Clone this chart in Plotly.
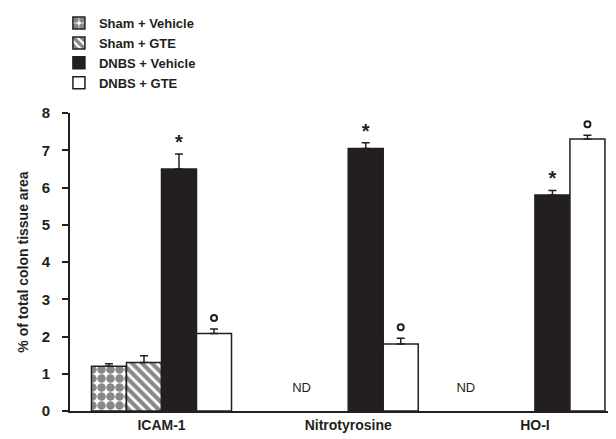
import plotly.graph_objects as go

categories = ["ICAM-1", "Nitrotyrosine", "HO-I"]
series_names = ["Sham + Vehicle", "Sham + GTE", "DNBS + Vehicle", "DNBS + GTE"]
sham_vehicle = [1.2, None, None]
sham_vehicle_err = [0.07, None, None]
sham_gte = [1.3, None, None]
sham_gte_err = [0.18, None, None]
dnbs_vehicle = [6.5, 7.05, 5.8]
dnbs_vehicle_err = [0.4, 0.15, 0.12]
dnbs_gte = [2.08, 1.8, 7.3]
dnbs_gte_err = [0.12, 0.15, 0.1]
nd_label = "ND"
nd_x = [0.75, 1.63]
nd_y = [0.6, 0.6]
y_ticks = [0, 1, 2, 3, 4, 5, 6, 7, 8]

FONT = "Liberation Sans"
xpos = list(range(len(categories)))
bargap = 0.25
bw = (1 - bargap) / 4

fig = go.Figure()
styles = [
    dict(color="white", pattern=dict(shape=".", fgcolor="#111", bgcolor="white", size=9, solidity=0.7)),
    dict(color="white", pattern=dict(shape="\\", fgcolor="#111", bgcolor="white", size=7, solidity=0.6)),
    dict(color="#231f20"),
    dict(color="white"),
]
vals = [sham_vehicle, sham_gte, dnbs_vehicle, dnbs_gte]
errs = [sham_vehicle_err, sham_gte_err, dnbs_vehicle_err, dnbs_gte_err]
for name, v, e, st in zip(series_names, vals, errs, styles):
    fig.add_trace(go.Bar(
        x=xpos, y=v, name=name,
        marker=dict(line=dict(color="#231f20", width=1.5), **st),
        error_y=dict(type="data", array=e, visible=True, color="#231f20", thickness=1.5, width=4, symmetric=False, arrayminus=[0]*3),
    ))

# significance markers
off_v = -0.5 + bargap / 2 + bw * 2.5
off_g = -0.5 + bargap / 2 + bw * 3.5
fig.add_trace(go.Scatter(
    x=[x + off_v for x in xpos],
    y=[v + e for v, e in zip(dnbs_vehicle, dnbs_vehicle_err)],
    mode="text", text=["*"] * 3, textposition="top center",
    textfont=dict(family=FONT, size=20, color="#231f20", weight="bold"),
    showlegend=False, hoverinfo="skip", cliponaxis=False,
))
fig.add_trace(go.Scatter(
    x=[x + off_g for x in xpos],
    y=[v + e + 0.3 for v, e in zip(dnbs_gte, dnbs_gte_err)],
    mode="markers", marker=dict(symbol="circle-open", size=6, line=dict(width=2, color="#231f20"), color="#231f20"),
    showlegend=False, hoverinfo="skip", cliponaxis=False,
))
fig.add_trace(go.Scatter(
    x=nd_x, y=nd_y,
    mode="text", text=[nd_label] * len(nd_x),
    textfont=dict(family=FONT, size=13, color="#231f20"),
    showlegend=False, hoverinfo="skip",
))

fig.update_layout(
    width=616, height=439,
    margin=dict(l=62, r=0, t=100, b=36),
    paper_bgcolor="white", plot_bgcolor="white",
    barmode="group", bargap=bargap, bargroupgap=0,
    font=dict(family=FONT, size=13, color="#231f20"),
    legend=dict(x=-0.02, y=1.352, xanchor="left", yanchor="top",
                font=dict(family=FONT, size=13, color="#231f20", weight="bold"),
                tracegroupgap=0, itemwidth=30, bgcolor="rgba(0,0,0,0)"),
    showlegend=True,
)
fig.update_xaxes(
    tickmode="array", tickvals=xpos, ticktext=categories,
    range=[-0.49, 2.477], showline=True, linecolor="#231f20", linewidth=2,
    ticks="", showgrid=False, zeroline=False,
    tickfont=dict(family=FONT, size=14, weight="bold"),
)
fig.update_yaxes(
    range=[0, 8], tickvals=y_ticks, showline=True, linecolor="#231f20", linewidth=2,
    ticks="outside", ticklen=6, tickwidth=2, tickcolor="#231f20",
    ticklabelstandoff=9,
    showgrid=False, zeroline=False,
    tickfont=dict(family=FONT, size=15, weight="bold"),
    title=dict(text="% of total colon tissue area", font=dict(family=FONT, size=14, weight="bold"), standoff=10),
)
fig.write_html("out.html")
